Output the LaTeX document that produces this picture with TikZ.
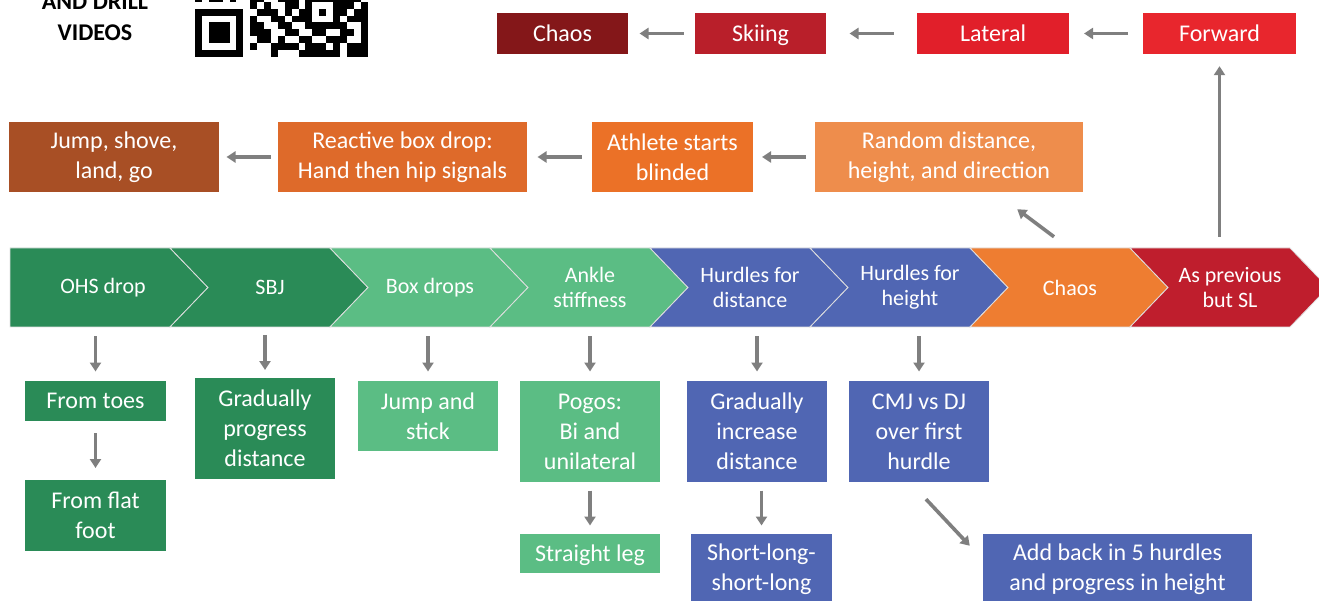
\documentclass[tikz,border=0pt]{standalone}
\usepackage{fontspec}
\setmainfont{Carlito}
\usetikzlibrary{arrows.meta,positioning,calc}

\definecolor{dkred}{HTML}{841719}
\definecolor{skired}{HTML}{B91F2A}
\definecolor{latred}{HTML}{E11F2A}
\definecolor{fwdred}{HTML}{E8262D}
\definecolor{brown}{HTML}{A84F25}
\definecolor{reacor}{HTML}{DE6A2A}
\definecolor{athor}{HTML}{EB7127}
\definecolor{randor}{HTML}{EE8D4C}
\definecolor{dkgreen}{HTML}{2A8B57}
\definecolor{ltgreen}{HTML}{5BBD84}
\definecolor{hblue}{HTML}{5066B3}
\definecolor{chaosor}{HTML}{EE7D31}
\definecolor{prevred}{HTML}{BF1E2D}
\definecolor{arrgray}{HTML}{7F7F7F}

% arrow centred in the gap between two nodes
\newcommand{\hgap}[2]{\draw[arrow] ($(#1.west)!0.5!(#2.east)+(22,0)$) -- ($(#1.west)!0.5!(#2.east)+(-22,0)$);}
\newcommand{\vgap}[2]{\draw[arrow] ($(#1.south -| #2.north)!0.5!(#2.north)+(0,-17.5)$) -- ($(#1.south -| #2.north)!0.5!(#2.north)+(0,17.5)$);}

\begin{document}
\begin{tikzpicture}[
    x=1pt, y=-1pt,
    box/.style={rectangle, fill=#1, text=white, align=center, inner sep=0pt, font={\fontsize{24}{30}\selectfont}},
    oneline/.style={text height=18pt, text depth=2.5pt},
    chevtext/.style={text=white, align=center, inner sep=0pt, minimum height=79pt, font={\fontsize{22}{25}\selectfont}},
    arrow/.style={-{Triangle[length=9pt,width=11pt]}, line width=3.6pt, draw=arrgray}
]
\clip (0,0) rectangle (1319,601);

% QR code and caption
\node[font={\fontsize{24}{31}\selectfont\bfseries}, align=center] (qrlabel) at (95,17) {AND DRILL\\VIDEOS};
\fill (195,57) rectangle ++(48.3,-48.3);
\fill[white] (201.9,50.1) rectangle ++(34.5,-34.5);
\fill (208.8,43.2) rectangle ++(20.7,-20.7);
\fill (305.4,29.4) rectangle ++(34.5,-34.5);
\fill[white] (312.3,22.5) rectangle ++(20.7,-20.7);
\fill (319.2,15.6) rectangle ++(6.9,-6.9);
\foreach \r/\cl in {0/{11,15,16,17,18,19,20,22,23,24}, 1/{8,11,12,13,14,16,17,18,20,22,23,24},
    2/{9,10,12,15,16,19,20,21,24}, 3/{8,9,10,13,14,17,18,21,22,24}, 4/{8,9,12,13,21,24},
    5/{8,11,12,14,15,22,23,24}, 6/{9,10,11,13,15,21,23,24}, 7/{8,10,13,14,21,22,24},
    8/{0,2,3,5,8,9,12,13,14,21,22,23}}
  \foreach \c in \cl
    \fill (195+6.9*\c,57-6.9*\r) rectangle ++(6.9,-6.9);

% Top progression
\node[box=dkred, oneline, minimum width=131pt, minimum height=41pt] (chaos) at (562.5,33.5) {Chaos};
\node[box=skired, oneline, minimum width=131pt, minimum height=41pt] (skiing) at (760.5,33.5) {Skiing};
\node[box=latred, oneline, minimum width=152pt, minimum height=41pt] (lateral) at (993,33.5) {Lateral};
\node[box=fwdred, oneline, minimum width=153pt, minimum height=41pt] (forward) at (1219.5,33.5) {Forward};
\hgap{skiing}{chaos}
\hgap{lateral}{skiing}
\hgap{forward}{lateral}

% Second row
\node[box=brown, minimum width=210pt, minimum height=70pt] (jump) at (114,157) {Jump, shove,\\land, go};
\node[box=reacor, minimum width=249pt, minimum height=70pt] (reactive) at (402.5,157) {Reactive box drop:\\Hand then hip signals};
\node[box=athor, minimum width=161pt, minimum height=70pt] (athlete) at (672.5,157) {Athlete starts\\blinded};
\node[box=randor, minimum width=268pt, minimum height=70pt] (random) at (949,157) {Random distance,\\height, and direction};
\hgap{reactive}{jump}
\hgap{athlete}{reactive}
\hgap{random}{athlete}

% Chevron band
\foreach \i/\col/\name/\txt in {0/dkgreen/ohs/OHS drop, 1/dkgreen/sbj/SBJ, 2/ltgreen/boxd/Box drops,
    3/ltgreen/ankle/{Ankle\\stiffness}, 4/hblue/hdist/{Hurdles for\\distance}, 5/hblue/hheight/{Hurdles for\\height},
    6/chaosor/chaosc/Chaos, 7/prevred/asprev/{As previous\\but SL}} {
  \pgfmathsetmacro\lx{10+160*\i}
  \pgfmathsetmacro\rx{170+160*\i}
  \pgfmathsetmacro\nx{\i==0 ? \lx : \lx+38}
  \filldraw[fill=\col, draw=white!75!gray, line width=0.8pt]
    (\lx,248) -- (\rx,248) -- (\rx+38,287.5) -- (\rx,327) -- (\lx,327) -- (\nx,287.5) -- cycle;
  \pgfmathsetmacro\tx{\i==0 ? 103 : 110+160*\i}
  \node[chevtext] (\name) at (\tx,287.5) {\txt};
}

% Bottom boxes
\node[box=dkgreen, oneline, minimum width=141pt, minimum height=40pt] (toes) at (95.5,401) {From toes};
\node[box=dkgreen, minimum width=141pt, minimum height=71pt] (flat) at (95.5,515.5) {From flat\\foot};
\node[box=dkgreen, minimum width=140pt, minimum height=101pt] (gprog) at (265,428.5) {Gradually\\progress\\distance};
\node[box=ltgreen, minimum width=140pt, minimum height=70pt] (jstick) at (428,416) {Jump and\\stick};
\node[box=ltgreen, minimum width=140pt, minimum height=101pt] (pogos) at (590,431.5) {Pogos:\\Bi and\\unilateral};
\node[box=ltgreen, oneline, minimum width=140pt, minimum height=39pt] (straight) at (590,553.5) {Straight leg};
\node[box=hblue, minimum width=140pt, minimum height=101pt] (ginc) at (757,431.5) {Gradually\\increase\\distance};
\node[box=hblue, minimum width=141pt, minimum height=70pt] (shortlong) at (761.5,569) {Short-long-\\short-long};
\node[box=hblue, minimum width=140pt, minimum height=101pt] (cmj) at (919,431.5) {CMJ vs DJ\\over first\\hurdle};
\node[box=hblue, minimum width=269pt, minimum height=70pt] (addback) at (1117.5,569) {Add back in 5 hurdles\\and progress in height};

% Arrows down from the band
\vgap{ohs}{toes}
\vgap{sbj}{gprog}
\vgap{boxd}{jstick}
\vgap{ankle}{pogos}
\vgap{hdist}{ginc}
\vgap{hheight}{cmj}
\vgap{toes}{flat}
\vgap{pogos}{straight}
\vgap{ginc}{shortlong}
\draw[arrow] ($(cmj.south)+(7,17)$) -- ($(addback.north west)+(-13,12)$);

% Arrows up from the band
\draw[arrow, shorten <=11pt, shorten >=12pt] (asprev.north -| forward.south) -- (forward.south);
\draw[arrow] ($(chaosc.north)+(-16,-11)$) -- ($(random.south east)+(-66,17)$);
\end{tikzpicture}
\end{document}
